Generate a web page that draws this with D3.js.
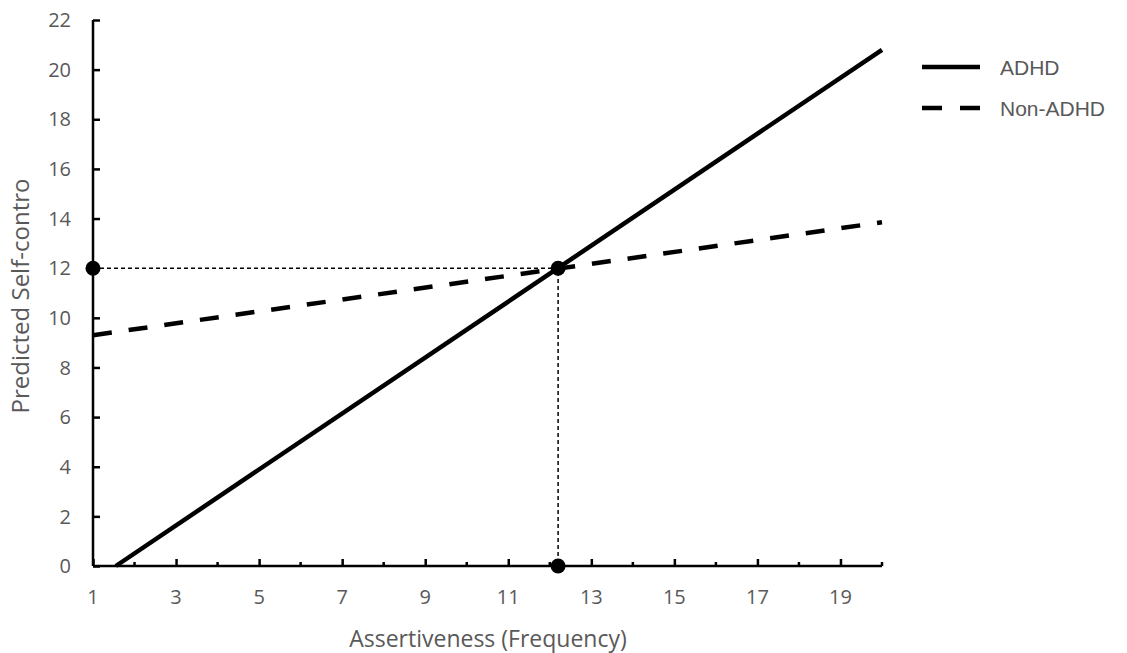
<!DOCTYPE html>
<html>
<head>
<meta charset="utf-8">
<script src="https://cdn.jsdelivr.net/npm/d3@7"></script>
<style>
  body { margin: 0; background: #fff; }
  text { font-family: "Open Sans", sans-serif; fill: #595959; }
</style>
</head>
<body>
<svg id="chart"></svg>
<script>
// data
var groups = ["ADHD", "Non-ADHD"];
var adhdLine = [{ x: 1.55, y: 0 }, { x: 20, y: 20.8 }];
var nonAdhdLine = [{ x: 1, y: 9.3 }, { x: 20, y: 13.85 }];
var crossPoints = [{ x: 1, y: 12 }, { x: 12.2, y: 12 }, { x: 12.2, y: 0 }];
var xTicks = [1, 3, 5, 7, 9, 11, 13, 15, 17, 19];
var xMinorTicks = [2, 4, 6, 8, 10, 12, 14, 16, 18, 20];
var yTicks = [0, 2, 4, 6, 8, 10, 12, 14, 16, 18, 20, 22];

var width = 1127;
var height = 653;

var svg = d3.select("svg#chart")
    .attr("width", width)
    .attr("height", height);

var x = d3.scaleLinear()
    .domain([1, 20])
    .range([93, 882]);

var y = d3.scaleLinear()
    .domain([0, 22])
    .range([566, 20]);

var line = d3.line()
    .x(function(d) { return x(d.x) })
    .y(function(d) { return y(d.y) });

// y axis
var yAxis = svg.append("g")
    .attr("transform", "translate(" + x(1) + ",0)")
    .call(d3.axisRight(y).tickValues(yTicks).tickSize(7).tickFormat(""));
yAxis.select(".domain").attr("stroke", "#000").attr("stroke-width", 2.5)
    .attr("d", "M0," + y(22) + "V" + y(0));
yAxis.selectAll(".tick line").attr("stroke", "#000").attr("stroke-width", 2.5);

svg.append("g").selectAll("text.ylab")
    .data(yTicks)
    .enter()
    .append("text")
    .attr("class", "ylab")
    .attr("x", 71)
    .attr("y", function(d) { return y(d) })
    .attr("dy", "0.36em")
    .attr("text-anchor", "end")
    .style("font-size", "20px")
    .text(function(d) { return d });

// x axis
var xAxis = svg.append("g")
    .attr("transform", "translate(0," + y(0) + ")")
    .call(d3.axisTop(x).tickValues(xTicks).tickSize(7).tickFormat(""));
xAxis.select(".domain").attr("stroke", "#000").attr("stroke-width", 2.5)
    .attr("d", "M" + x(1) + ",0H" + x(20));
xAxis.selectAll(".tick line").attr("stroke", "#000").attr("stroke-width", 2.5);

svg.append("g").selectAll("line.minor")
    .data(xMinorTicks)
    .enter()
    .append("line")
    .attr("class", "minor")
    .attr("x1", function(d) { return x(d) })
    .attr("x2", function(d) { return x(d) })
    .attr("y1", y(0))
    .attr("y2", y(0) - 4)
    .attr("stroke", "#000")
    .attr("stroke-width", 2.5);

svg.append("g").selectAll("text.xlab")
    .data(xTicks)
    .enter()
    .append("text")
    .attr("class", "xlab")
    .attr("x", function(d) { return x(d) })
    .attr("y", 604)
    .attr("text-anchor", "middle")
    .style("font-size", "20px")
    .text(function(d) { return d });

// axis titles
svg.append("text")
    .attr("x", 488)
    .attr("y", 647)
    .attr("text-anchor", "middle")
    .style("font-size", "23px")
    .text("Assertiveness (Frequency)");

svg.append("text")
    .attr("transform", "translate(29," + 296 + ") rotate(-90)")
    .attr("text-anchor", "middle")
    .style("font-size", "24px")
    .text("Predicted Self-contro");

// reference lines
svg.append("path")
    .datum([crossPoints[0], crossPoints[1], crossPoints[2]])
    .attr("d", line)
    .attr("fill", "none")
    .attr("stroke", "#000")
    .attr("stroke-width", 1.5)
    .attr("stroke-dasharray", "4,3");

// series lines
svg.append("path")
    .datum(nonAdhdLine)
    .attr("d", line)
    .attr("fill", "none")
    .attr("stroke", "#000")
    .attr("stroke-width", 4.5)
    .attr("stroke-dasharray", "19,17");

svg.append("path")
    .datum(adhdLine)
    .attr("d", line)
    .attr("fill", "none")
    .attr("stroke", "#000")
    .attr("stroke-width", 4.5);

svg.append("g").selectAll("circle.point")
    .data(crossPoints)
    .enter()
    .append("circle")
    .attr("class", "point")
    .attr("cx", function(d) { return x(d.x) })
    .attr("cy", function(d) { return y(d.y) })
    .attr("r", 7.5)
    .attr("fill", "#000");

// legend
var legend = svg.append("g").selectAll("g.leg")
    .data(groups)
    .enter()
    .append("g")
    .attr("class", "leg")
    .attr("transform", function(d, i) { return "translate(922," + (67 + i * 41) + ")" });

legend.append("line")
    .attr("x1", 0)
    .attr("x2", 58)
    .attr("stroke", "#000")
    .attr("stroke-width", 4.5)
    .attr("stroke-dasharray", function(d, i) { return i ? "20,18" : null });

legend.append("text")
    .attr("x", 78)
    .attr("dy", "0.36em")
    .style("font-family", "'Liberation Sans', Arial, sans-serif")
    .style("font-size", "21px")
    .text(function(d) { return d });
</script>
</body>
</html>
